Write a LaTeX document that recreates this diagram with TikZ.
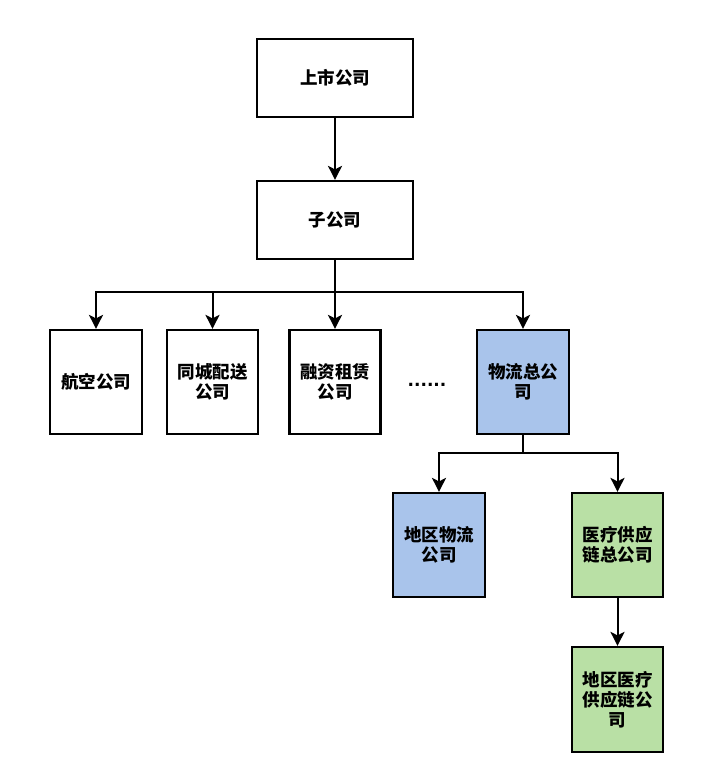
\documentclass[tikz,border=0pt]{standalone}
\usepackage{fontspec}
\setmainfont{Noto Sans CJK SC}
\newfontfamily\dotsfont{DejaVu Sans}
\usepackage{tikz}
\usetikzlibrary{arrows.meta}
\definecolor{BluLogistica}{HTML}{A9C4EB}
\definecolor{VerdeSanita}{HTML}{B9E0A5}

\begin{document}
\begin{tikzpicture}[x = 1pt, y = -1pt,
  box/.style = {
      draw, line width = 2.2pt, align = center, inner sep = 0pt,
      minimum width = #1, minimum height = 104pt,
      font = \fontsize{17.5}{20}\selectfont\bfseries
  },
  box/.default = 91pt,
  conn/.style = {line width = 2pt, -{Stealth[length = 14pt, width = 14pt, inset = 3.5pt]}},
  link/.style = {line width = 2pt}
]
  \useasboundingbox (0, 0) rectangle (715, 782);

  \node[box = 156pt, minimum height = 78pt] (listed) at (335, 78) {上市公司};
  \node[box = 156pt, minimum height = 78pt] (sub) at (335, 220) {子公司};

  \node[box = 92pt] (air) at (96, 382) {航空公司};
  \node[box] (city) at (212.5, 382) {同城配送\\公司};
  \node[box] (lease) at (335, 382) {融资租赁\\公司};
  \node[font = \dotsfont\fontsize{17}{20}\selectfont\bfseries] (dots) at (427, 385) {......};
  \node[box = 92pt, fill = BluLogistica] (logi) at (523, 382) {物流总公\\司};

  \node[box = 92pt, fill = BluLogistica] (reglogi) at (439, 545) {地区物流\\公司};
  \node[box, fill = VerdeSanita] (med) at (617.5, 545) {医疗供应\\链总公司};
  \node[box, fill = VerdeSanita, minimum height = 105pt] (regmed) at (617.5, 699.5) {地区医疗\\供应链公\\司};

  \draw[conn] (listed) -- (sub);

  \coordinate (split) at (335, 292);
  \draw[link] (sub) -- (split);
  \foreach \n in {air, city, lease, logi}
  \draw[conn] (split) -| (\n);

  \coordinate (split2) at (523, 453);
  \draw[link] (logi) -- (split2);
  \foreach \n in {reglogi, med}
  \draw[conn] (split2) -| (\n);

  \draw[conn] (med) -- (regmed);
\end{tikzpicture}
\end{document}
